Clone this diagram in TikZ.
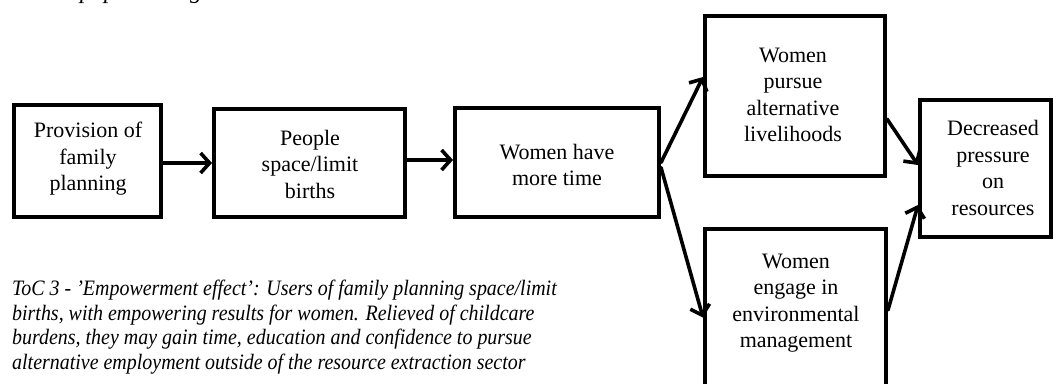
\documentclass[tikz,border=0pt]{standalone}
\usepackage{fontspec}
\setmainfont{Liberation Serif}
\usetikzlibrary{arrows.meta}
\begin{document}
\begin{tikzpicture}[x=1pt,y=-1pt,
  box/.style={draw=black, line width=4pt, rectangle, inner sep=0pt},
  lbl/.style={align=center, font=\fontsize{22}{26.5}\selectfont, inner sep=0pt},
  arr/.style={line width=3.6pt, line cap=round,
    -{Straight Barb[length=9pt,width=20pt,line width=3.6pt]}},
  note/.style={align=left, font=\fontsize{22}{24.5}\selectfont\itshape,
    inner sep=0pt, anchor=north west, transform shape, xscale=0.907}]
\useasboundingbox (0,0) rectangle (1056,383);
\clip (0,0) rectangle (1056,383);

% title line running above the frame
\node[font=\fontsize{24}{28}\selectfont\itshape, inner sep=0pt, anchor=base west]
  (title) at (80,-2) {population growth};

% boxes
\node[box, minimum width=147pt, minimum height=112pt] (A) at (87.5,161) {};
\node[box, minimum width=191pt, minimum height=108pt] (B) at (309.5,163) {};
\node[box, minimum width=204pt, minimum height=109pt] (C) at (557,162.5) {};
\node[box, minimum width=180pt, minimum height=160pt] (D) at (795,96) {};
\node[box, minimum width=181pt, minimum height=191pt] (E) at (795.5,324.5) {};
\node[box, minimum width=131pt, minimum height=137pt] (F) at (985.5,168.5) {};

% box texts
\node[lbl] (At) at (88,159) {Provision of\\family\\planning};
\node[lbl] (Bt) at (310,164) {People\\space/limit\\births};
\node[lbl] (Ct) at (557,165) {Women have\\more time};
\node[lbl] (Dt) at (793,95) {Women\\pursue\\alternative\\livelihoods};
\node[lbl] (Et) at (796,303) {Women\\engage in\\environmental\\management};
\node[lbl] (Ft) at (993,168) {Decreased\\pressure\\on\\resources};

% caption
\node[note] (cap) at (12,280) {ToC 3 - 'Empowerment effect': Users of family planning space/limit\\
births, with empowering results for women. Relieved of childcare\\
burdens, they may gain time, education and confidence to pursue\\
alternative employment outside of the resource extraction sector};

% connectors
\draw[arr] ([yshift=-2pt]A.east) -- ([yshift=-2pt]A.east -| B.west);
\draw[arr] ([yshift=3pt]B.east) -- ([yshift=3pt]B.east -| C.west);
\draw[arr] (C.east) -- ([yshift=19pt]D.west);
\draw[arr] ([yshift=-5pt]C.east) -- ([yshift=7pt]E.west);
\draw[arr] ([yshift=-23pt]D.east) -- ([yshift=3.5pt]F.west);
\draw[arr] ([yshift=14.5pt]E.east) -- ([yshift=-36.5pt]F.west);
\end{tikzpicture}
\end{document}
